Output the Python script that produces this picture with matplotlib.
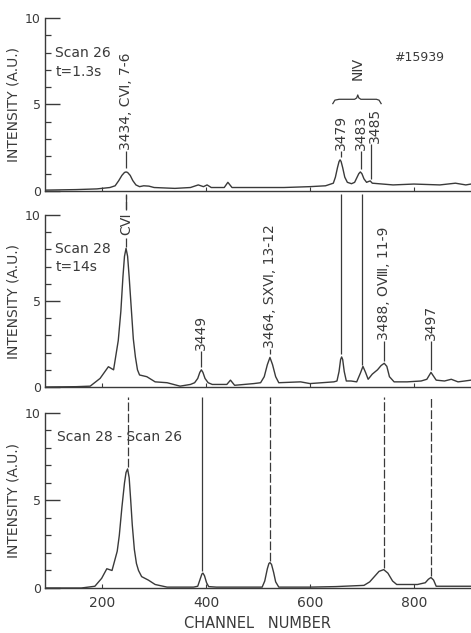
import matplotlib.pyplot as plt
from matplotlib.ticker import MultipleLocator, FixedLocator

plt.rcParams['font.family'] = ['DejaVu Sans']
INK = '#3a3a3a'

# --- trace data (channel number, intensity A.U.) ---
ch_scan26 = [90, 150, 190, 215, 225, 232, 238, 243, 246, 249, 254, 259, 265, 272,
             280, 290, 300, 340, 370, 385, 395, 402, 410, 435, 442, 450, 500, 550,
             600, 630, 645, 649, 653, 656, 658, 660, 663, 667, 672, 680, 686, 690,
             694, 697, 700, 704, 709, 713, 716, 720, 760, 800, 850, 880, 900, 910]
i_scan26 = [0.05, 0.08, 0.12, 0.2, 0.3, 0.6, 0.9, 1.07, 1.1, 1.07, 0.9, 0.6, 0.35,
            0.25, 0.3, 0.28, 0.2, 0.15, 0.2, 0.35, 0.25, 0.35, 0.2, 0.2, 0.5, 0.2,
            0.2, 0.2, 0.25, 0.3, 0.45, 0.8, 1.35, 1.7, 1.8, 1.7, 1.35, 0.8, 0.5,
            0.42, 0.5, 0.75, 1.0, 1.1, 1.0, 0.7, 0.5, 0.55, 0.58, 0.45, 0.35, 0.4,
            0.35, 0.45, 0.35, 0.4]

ch_scan28 = [90, 150, 177, 196, 212, 222, 231, 236, 240, 243, 246, 249, 252, 256,
             260, 264, 268, 272, 286, 302, 325, 350, 370, 378, 384, 388, 391, 394,
             398, 404, 412, 440, 447, 455, 492, 505, 512, 518, 523, 528, 534, 540,
             582, 600, 646, 652, 656, 659, 661, 663, 666, 670, 679, 690, 697, 702,
             707, 712, 720, 730, 737, 743, 748, 753, 762, 787, 814, 825, 833, 843,
             859, 872, 885, 898, 910]
i_scan28 = [0.0, 0.02, 0.05, 0.5, 1.18, 1.0, 2.7, 4.4, 6.4, 7.6, 8.06, 7.6, 6.4,
            4.6, 2.8, 1.75, 1.0, 0.7, 0.6, 0.3, 0.25, 0.05, 0.15, 0.25, 0.5, 0.85,
            1.0, 0.85, 0.5, 0.25, 0.15, 0.15, 0.4, 0.1, 0.2, 0.25, 0.6, 1.3, 1.72,
            1.3, 0.6, 0.25, 0.3, 0.2, 0.3, 0.35, 0.9, 1.6, 1.75, 1.6, 0.9, 0.35,
            0.35, 0.3, 0.8, 1.2, 0.85, 0.45, 0.75, 1.0, 1.25, 1.38, 1.2, 0.6, 0.3,
            0.3, 0.35, 0.45, 0.85, 0.4, 0.35, 0.45, 0.3, 0.35, 0.4]

ch_diff = [90, 160, 186, 199, 209, 219, 229, 233, 238, 243, 246, 249, 252, 255,
           258, 262, 266, 270, 276, 289, 302, 325, 376, 384, 388, 392, 394, 397,
           401, 405, 420, 500, 508, 513, 518, 521, 523, 526, 530, 534, 540, 600,
           650, 704, 715, 724, 733, 742, 750, 759, 767, 807, 822, 828, 833, 838,
           843, 880, 910]
i_diff = [0.0, 0.0, 0.1, 0.55, 1.1, 1.0, 2.1, 3.0, 4.6, 6.0, 6.6, 6.8, 6.3, 5.0,
          3.6, 2.2, 1.4, 1.0, 0.65, 0.45, 0.2, 0.05, 0.05, 0.1, 0.45, 0.8, 0.85,
          0.7, 0.3, 0.08, 0.05, 0.05, 0.05, 0.4, 1.1, 1.4, 1.45, 1.35, 0.9, 0.35,
          0.05, 0.05, 0.08, 0.15, 0.35, 0.65, 0.95, 1.05, 0.85, 0.4, 0.2, 0.2,
          0.3, 0.5, 0.6, 0.45, 0.1, 0.1, 0.1]

# line identifications: (channel, label, text bottom, leader end)
top_labels = [(246, '3434, C\u2165, 7-6', 2.35, 1.35),
              (659, '3479', 2.37, 1.95),
              (698, '3483', 2.37, 1.25),
              (726, '3485', 2.75, 0.7)]
mid_labels = [(391, '3449', 2.15, 1.15),
              (523, '3464, S\u2169\u2165, 13-12', 2.27, 1.9),
              (743, '3488, O\u2167, 11-9', 2.73, 1.5),
              (833, '3497', 2.73, 1.0)]
# connectors into the difference panel: (channel, peak top, dashed?)
diff_lines = [(249, 6.9, True), (393, 0.95, False), (523, 1.55, True),
              (742, 1.15, True), (833, 0.7, True)]

fig = plt.figure(figsize=(4.71, 6.33), dpi=100)
left, width = 45 / 471, 426 / 471
ax_top = fig.add_axes([left, 0.6983, width, 0.2733])
ax_mid = fig.add_axes([left, 0.3886, width, 0.2717])
ax_bot = fig.add_axes([left, 0.0711, width, 0.2765])


def style(ax, xlabels):
    ax.set_xlim(90, 910)
    ax.set_ylim(0, 10)
    for s in ('top', 'right'):
        ax.spines[s].set_visible(False)
    for s in ('left', 'bottom'):
        ax.spines[s].set_color(INK)
        ax.spines[s].set_linewidth(1.0)
    ax.yaxis.set_major_locator(FixedLocator([0, 5, 10]))
    ax.yaxis.set_minor_locator(MultipleLocator(1))
    ax.tick_params(axis='y', which='major', direction='in', length=11, width=1.0,
                   color=INK, labelcolor=INK, labelsize=9, pad=3)
    ax.tick_params(axis='y', which='minor', direction='in', length=4, width=0.9, color=INK)
    ax.xaxis.set_major_locator(FixedLocator([200, 400, 600, 800]))
    ax.tick_params(axis='x', direction='in', length=3, width=0.8, color=INK,
                   labelcolor=INK, labelsize=10, pad=6, labelbottom=xlabels)
    ax.set_ylabel('INTENSITY (A.U.)', color=INK, fontsize=10, labelpad=3)


for ax, ch, val in ((ax_top, ch_scan26, i_scan26), (ax_mid, ch_scan28, i_scan28),
                    (ax_bot, ch_diff, i_diff)):
    ax.plot(ch, val, color=INK, lw=1.0)
style(ax_top, False)
style(ax_mid, False)
style(ax_bot, True)
ax_bot.set_xlabel('CHANNEL   NUMBER', color=INK, fontsize=10.5, labelpad=4)

txt = dict(color=INK, fontsize=10)

# --- top panel ---
ax_top.text(110, 8.0, 'Scan 26', va='center', **txt)
ax_top.text(110, 6.9, 't=1.3s', va='center', **txt)
ax_top.text(762, 7.7, '#15939', va='center', color=INK, fontsize=9)
for c, lab, yb, ye in top_labels:
    xl = 717 if lab == '3485' else c
    ax_top.vlines(xl, ye, yb - 0.05, color=INK, lw=0.9)
    ax_top.text(c, yb, lab, rotation=90, ha='center', va='bottom', **txt)
# brace over the N IV group
brace_x = [644, 648, 656, 686, 690, 692, 694, 698, 728, 733, 737]
brace_y = [5.05, 5.25, 5.3, 5.3, 5.38, 5.55, 5.38, 5.3, 5.3, 5.25, 5.05]
ax_top.plot(brace_x, brace_y, color=INK, lw=0.9, clip_on=False)
ax_top.text(692, 7.1, 'N\u2163', rotation=90, ha='center', va='center', **txt)
ax_top.vlines(246, -1.1, -0.25, color=INK, lw=0.9, clip_on=False)

# --- middle panel ---
ax_mid.text(110, 8.0, 'Scan 28', va='center', **txt)
ax_mid.text(110, 7.0, 't=14s', va='center', **txt)
ax_mid.vlines(246, 10.35, 11.2, color=INK, lw=0.9, linestyles=(0, (6, 2)), clip_on=False)
ax_mid.vlines(246, 8.15, 8.65, color=INK, lw=0.9, clip_on=False)
ax_mid.text(246, 9.5, 'C\u2165', rotation=90, ha='center', va='center', **txt)
ax_mid.vlines(660, 1.9, 11.2, color=INK, lw=0.9, clip_on=False)
ax_mid.vlines(700, 1.3, 11.2, color=INK, lw=0.9, clip_on=False)
for c, lab, yb, ye in mid_labels:
    ax_mid.vlines(c, ye, yb - 0.05, color=INK, lw=0.9)
    ax_mid.text(c, yb, lab, rotation=90, ha='center', va='bottom', **txt)

# --- difference panel ---
ax_bot.text(113, 8.6, 'Scan 28 - Scan 26', va='center', **txt)
for c, top, dashed in diff_lines:
    ls = (0, (7, 2)) if dashed else 'solid'
    ax_bot.vlines(c, top, 10.9, color=INK, lw=0.9, linestyles=ls, clip_on=False)

fig.savefig('out.png', dpi=100)
